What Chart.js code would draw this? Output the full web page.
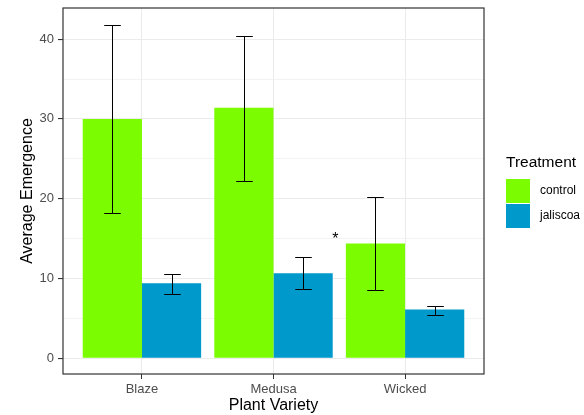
<!DOCTYPE html>
<html>
<head>
<meta charset="utf-8">
<script src="https://cdn.jsdelivr.net/npm/chart.js@4.4.1/dist/chart.umd.min.js"></script>
<style>
  html, body { margin: 0; padding: 0; background: #fff; }
  canvas { display: block; }
</style>
</head>
<body>
<canvas id="chart" width="584" height="415"></canvas>
<script>
const VARIETIES = ["Blaze", "Medusa", "Wicked"];
const TREATMENTS = ["control", "jaliscoa"];
const CONTROL_MEAN = [30.0, 31.4, 14.4];
const CONTROL_LOW = [18.2, 22.2, 8.55];
const CONTROL_HIGH = [41.8, 40.4, 20.2];
const JALISCOA_MEAN = [9.4, 10.65, 6.1];
const JALISCOA_LOW = [8.0, 8.7, 5.4];
const JALISCOA_HIGH = [10.6, 12.7, 6.6];
const Y_TICKS = [0, 5, 10, 15, 20, 25, 30, 35, 40];
const STAR_X = 1.47, STAR_Y = 14.3;
const COLORS = ["#7CFC00", "#0099CC"];
const FONT = "'Liberation Sans', Arial, sans-serif";

const isMajor = c => c.tick && c.tick.value % 10 === 0;

// error bars, asterisk, panel border and legend
const extras = {
  id: "extras",
  afterDatasetsDraw(chart) {
    const { ctx, chartArea: a, scales: { x, y } } = chart;
    ctx.save();
    ctx.strokeStyle = "#000";
    ctx.lineWidth = 1;
    chart.data.datasets.forEach((ds, i) => {
      chart.getDatasetMeta(i).data.forEach((bar, j) => {
        const cap = bar.width * 0.14;
        const top = Math.round(y.getPixelForValue(ds.errHigh[j])) + 0.5;
        const bot = Math.round(y.getPixelForValue(ds.errLow[j])) + 0.5;
        const cx = Math.round(bar.x) + 0.5;
        ctx.beginPath();
        ctx.moveTo(cx, top); ctx.lineTo(cx, bot);
        ctx.moveTo(cx - cap, top); ctx.lineTo(cx + cap, top);
        ctx.moveTo(cx - cap, bot); ctx.lineTo(cx + cap, bot);
        ctx.stroke();
      });
    });

    ctx.fillStyle = "#000";
    ctx.font = "16px " + FONT;
    ctx.textAlign = "center";
    ctx.textBaseline = "alphabetic";
    ctx.fillText("*", x.getPixelForValue(STAR_X), y.getPixelForValue(STAR_Y));

    ctx.strokeStyle = "#333";
    ctx.lineWidth = 1.2;
    ctx.strokeRect(a.left, a.top, a.width, a.height);

    const lx = a.right + 22, my = (a.top + a.bottom) / 2;
    ctx.textAlign = "left";
    ctx.textBaseline = "middle";
    ctx.font = "15.5px " + FONT;
    ctx.fillText("Treatment", lx, my - 28);
    ctx.font = "12px " + FONT;
    chart.data.datasets.forEach((ds, i) => {
      const ky = my - 12 + i * 25;
      ctx.fillStyle = ds.backgroundColor;
      ctx.fillRect(lx, ky, 24, 24);
      ctx.fillStyle = "#000";
      ctx.fillText(ds.label, lx + 34, ky + 12);
    });
    ctx.restore();
  }
};

new Chart(document.getElementById("chart"), {
  type: "bar",
  data: {
    datasets: [
      { label: TREATMENTS[0], data: CONTROL_MEAN.map((v, i) => ({ x: i, y: v })),
        errLow: CONTROL_LOW, errHigh: CONTROL_HIGH, backgroundColor: COLORS[0] },
      { label: TREATMENTS[1], data: JALISCOA_MEAN.map((v, i) => ({ x: i, y: v })),
        errLow: JALISCOA_LOW, errHigh: JALISCOA_HIGH, backgroundColor: COLORS[1] }
    ]
  },
  options: {
    responsive: false, animation: false, devicePixelRatio: 1, events: [],
    categoryPercentage: 0.9, barPercentage: 1.0, borderWidth: 0,
    layout: { padding: { top: 8, right: 100, bottom: 0, left: 0 } },
    plugins: { legend: { display: false }, tooltip: { enabled: false } },
    scales: {
      x: {
        type: "linear", min: -0.6, max: 2.6, offset: false,
        afterBuildTicks: s => { s.ticks = VARIETIES.map((_, i) => ({ value: i })); },
        afterFit: s => { s.height = 41; s.paddingLeft = 0; s.paddingRight = 0; },
        ticks: { callback: v => VARIETIES[v], color: "#4d4d4d", font: { size: 13, family: FONT },
                 padding: 3, maxRotation: 0, autoSkip: false },
        grid: { offset: false, color: "#ebebeb", tickColor: "#333", tickLength: 5 },
        border: { display: false },
        title: { display: true, text: "Plant Variety", color: "#000",
                 font: { size: 16, family: FONT }, padding: { top: 0, bottom: 0 } }
      },
      y: {
        min: -1.97, max: 43.9,
        afterBuildTicks: s => { s.ticks = Y_TICKS.map(v => ({ value: v })); },
        afterFit: s => { s.width = 63; s.paddingTop = 0; s.paddingBottom = 0; },
        ticks: { callback: v => v % 10 === 0 ? v : "", color: "#4d4d4d",
                 font: { size: 13, family: FONT }, padding: 4 },
        grid: { color: "#ebebeb", lineWidth: c => isMajor(c) ? 1.1 : 0.6,
                tickColor: c => isMajor(c) ? "#333" : "rgba(0,0,0,0)", tickLength: 5 },
        border: { display: false },
        title: { display: true, text: "Average Emergence", color: "#000",
                 font: { size: 16, family: FONT }, padding: { top: 18, bottom: 0 } }
      }
    }
  },
  plugins: [extras]
});
</script>
</body>
</html>
